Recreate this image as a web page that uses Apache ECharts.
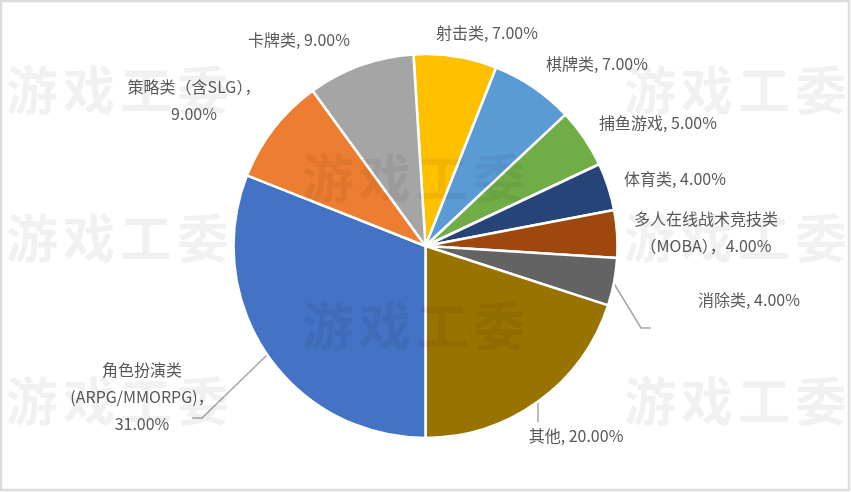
<!DOCTYPE html>
<html>
<head>
<meta charset="utf-8">
<style>html,body{margin:0;padding:0;background:#fff}#c{width:851px;height:492px}</style>
<script src="https://cdn.jsdelivr.net/npm/echarts@6/dist/echarts.min.js"></script>
</head>
<body>
<div id="c"></div>
<script>
const categories = ['射击类','棋牌类','捕鱼游戏','体育类','多人在线战术竞技类（MOBA）','消除类','其他','角色扮演类(ARPG/MMORPG)','策略类（含SLG）','卡牌类'];
const values = [7,7,5,4,4,4,20,31,9,9];
const colors = ['#ffc000','#5b9bd5','#70ad47','#264478','#9e480e','#636363','#997300','#4472c4','#ed7d31','#a5a5a5'];
const labelTexts = ['射击类, 7.00%','棋牌类, 7.00%','捕鱼游戏, 5.00%','体育类, 4.00%','多人在线战术竞技类\n（MOBA），4.00%','消除类, 4.00%','其他, 20.00%','角色扮演类\n(ARPG/MMORPG)，\n31.00%','策略类（含SLG），\n9.00%','卡牌类, 9.00%'];
const labelCentres = [[487,33],[597,64],[658,123],[675,179],[706,232],[749,300],[576,436],[142,397],[194,100],[299,40]];
const leaderLines = {5:[[613,282],[641,328],[651,328]],6:[[538,402],[538,412],[538,422]],7:[[267,355],[202,418],[192,418]]};
const watermarkOrigins = [[6,90],[624,90],[6,238],[624,238],[6,401],[624,401],[302,178],[302,326]];
const watermarkChars = ['游','戏','工','委'];

const graphic = [{type:'rect',z:200,shape:{x:1,y:1,width:848,height:489},style:{fill:'none',stroke:'#dcdcdc',lineWidth:2.5}}];
watermarkOrigins.forEach(([x,y]) => watermarkChars.forEach((ch,i) => {
  graphic.push({type:'text',z:100,silent:true,x:x+i*57+26,y,style:{text:ch,fill:'rgba(0,0,0,0.055)',font:'bold 52px "Noto Sans CJK SC"',align:'center',verticalAlign:'middle'}});
}));

const chart = echarts.init(document.getElementById('c'),null,{renderer:'canvas'});
chart.setOption({
  animation:false,
  backgroundColor:'#fff',
  graphic,
  series:[{
    type:'pie',
    center:[425.5,246],
    radius:[0,192],
    startAngle:93.6,
    clockwise:true,
    avoidLabelOverlap:false,
    itemStyle:{borderColor:'#fff',borderWidth:2.5},
    label:{show:true,position:'outside',color:'#595959',fontFamily:'"Noto Sans CJK SC"',fontSize:16,lineHeight:27,align:'center',
      formatter:p=>labelTexts[p.dataIndex]},
    labelLine:{show:false},
    labelLayout:p=>{
      const c=labelCentres[p.dataIndex];
      const r={x:c[0],y:c[1],align:'center',verticalAlign:'middle',hideOverlap:false};
      if(leaderLines[p.dataIndex]) r.labelLinePoints=leaderLines[p.dataIndex];
      return r;
    },
    data:categories.map((name,i)=>({
      name,value:values[i],itemStyle:{color:colors[i]},
      labelLine:{show:!!leaderLines[i],lineStyle:{color:'#a6a6a6',width:1.5}}
    }))
  }]
});
</script>
</body>
</html>
